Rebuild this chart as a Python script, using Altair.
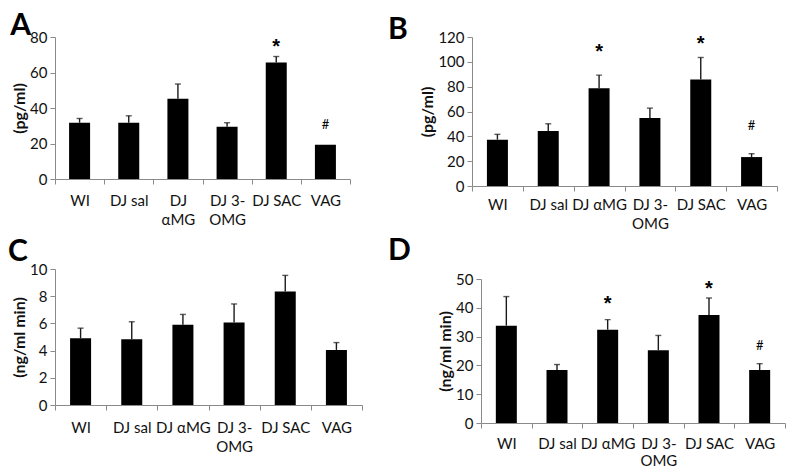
import altair as alt
import pandas as pd

# ---------------- data ----------------
cats_A = ["WI", "DJ sal", "DJ|αMG", "DJ 3-|OMG", "DJ SAC", "VAG"]
cats_BCD = ["WI", "DJ sal", "DJ αMG", "DJ 3-|OMG", "DJ SAC", "VAG"]

mean_A = [31.7, 31.7, 45.2, 29.5, 65.7, 19.3]
upper_A = [34.1, 35.6, 53.5, 31.7, 69.0, 19.3]
mean_B = [37.3, 44.2, 78.8, 54.7, 85.8, 23.3]
upper_B = [41.6, 50.1, 89.3, 62.7, 103.5, 26.0]
mean_C = [4.91, 4.84, 5.90, 6.07, 8.35, 4.05]
upper_C = [5.65, 6.12, 6.66, 7.43, 9.53, 4.59]
mean_D = [33.8, 18.4, 32.4, 25.3, 37.5, 18.4]
upper_D = [43.9, 20.3, 35.9, 30.4, 43.4, 20.6]

ann_A_cats = ["DJ SAC", "VAG"]
ann_A_syms = ["*", "#"]
ann_A_vals = [76.5, 30.6]
ann_B_cats = ["DJ αMG", "DJ SAC", "VAG"]
ann_B_syms = ["*", "*", "#"]
ann_B_vals = [111.0, 117.7, 48.0]
ann_D_cats = ["DJ αMG", "DJ SAC", "VAG"]
ann_D_syms = ["*", "*", "#"]
ann_D_vals = [42.6, 48.0, 26.9]

FONT = "Lato"
AXC = "#8a8a8a"


def panel(letter, cats, means, uppers, ymax, ystep, ytitle,
          ann_cats, ann_syms, ann_vals, w, h, letter_dx, letter_offset,
          title_pad, xlab_pad, line_h):
    df = pd.DataFrame({"cat": cats, "mean": means, "upper": uppers})
    ann = pd.DataFrame({"cat": ann_cats, "sym": ann_syms, "val": ann_vals})
    xaxis = alt.Axis(title=None, labelAngle=0,
                     labelExpr="split(datum.label, '|')",
                     tickBand="extent", tickSize=5, labelPadding=xlab_pad,
                     labelFont=FONT, labelFontSize=15, labelColor="#111",
                     labelLineHeight=line_h, domainColor=AXC, tickColor=AXC,
                     grid=False)
    xenc = alt.X("cat:N", sort=cats,
                 scale=alt.Scale(paddingInner=0, paddingOuter=0),
                 axis=xaxis)
    yscale = alt.Scale(domain=[0, ymax], nice=False)
    yaxis = alt.Axis(values=list(range(0, ymax + 1, ystep)), title=ytitle,
                     tickSize=5, labelPadding=3, labelFont=FONT,
                     labelFontSize=15, labelColor="#111", titleFont=FONT,
                     titleFontSize=16, titleFontWeight="bold",
                     titleColor="#111", titlePadding=title_pad,
                     domainColor=AXC, tickColor=AXC, grid=False)

    def yenc(field):
        return alt.Y(field, scale=yscale, axis=yaxis)

    bars = alt.Chart(df).mark_bar(size=21, color="black").encode(
        x=xenc, y=yenc("mean:Q"))
    err = alt.Chart(df).transform_filter("datum.upper > datum.mean").mark_rule(
        color="#1a1a1a", strokeWidth=1.4).encode(
        x=xenc, y=yenc("mean:Q"), y2=alt.Y2("upper:Q"))
    cap = alt.Chart(df).transform_filter("datum.upper > datum.mean").mark_tick(
        color="#1a1a1a", thickness=1.4, size=6).encode(
        x=xenc, y=yenc("upper:Q"))
    layers = [bars, err, cap]
    if ann_cats:
        star = alt.Chart(ann).transform_filter("datum.sym == '*'").mark_text(
            font="Liberation Sans", fontSize=20, fontWeight="bold",
            color="black", dy=4
        ).encode(x=xenc, y=yenc("val:Q"), text="sym:N")
        hsh = alt.Chart(ann).transform_filter("datum.sym == '#'").mark_text(
            font=FONT, fontSize=13, color="black"
        ).encode(x=xenc, y=yenc("val:Q"), text="sym:N")
        layers += [star, hsh]
    return alt.layer(*layers).properties(
        width=w, height=h,
        title=alt.TitleParams(letter, anchor="start", frame="group",
                              dx=letter_dx, offset=letter_offset,
                              fontSize=30, font=FONT, fontWeight="bold",
                              color="black"))


A = panel("A", cats_A, mean_A, upper_A, 80, 20, "(pg/ml)",
          ann_A_cats, ann_A_syms, ann_A_vals, 295, 142, -44.7, -11, 2,
          9.5, 19)
B = panel("B", cats_BCD, mean_B, upper_B, 120, 20, "(pg/ml)",
          ann_B_cats, ann_B_syms, ann_B_vals, 305, 149, -84, -14.7, 2,
          6, 19)
C = panel("C", cats_BCD, mean_C, upper_C, 10, 2, "(ng/ml min)",
          [], [], [], 307, 136, -47, -4.9, 2, 10, 19)
D = panel("D", cats_BCD, mean_D, upper_D, 50, 10, "(ng/ml min)",
          ann_D_cats, ann_D_syms, ann_D_vals, 304, 144, -93, 5.6, 2,
          8, 17)

chart = alt.concat(
    A, B, C, D, columns=2, align="none",
    spacing={"row": 5, "column": 25},
).properties(
    padding={"left": 0, "top": 3, "right": 0, "bottom": 0},
    background="white",
).configure_view(stroke=None)

chart.save("out.html", embed_options={"renderer": "svg", "actions": False})
